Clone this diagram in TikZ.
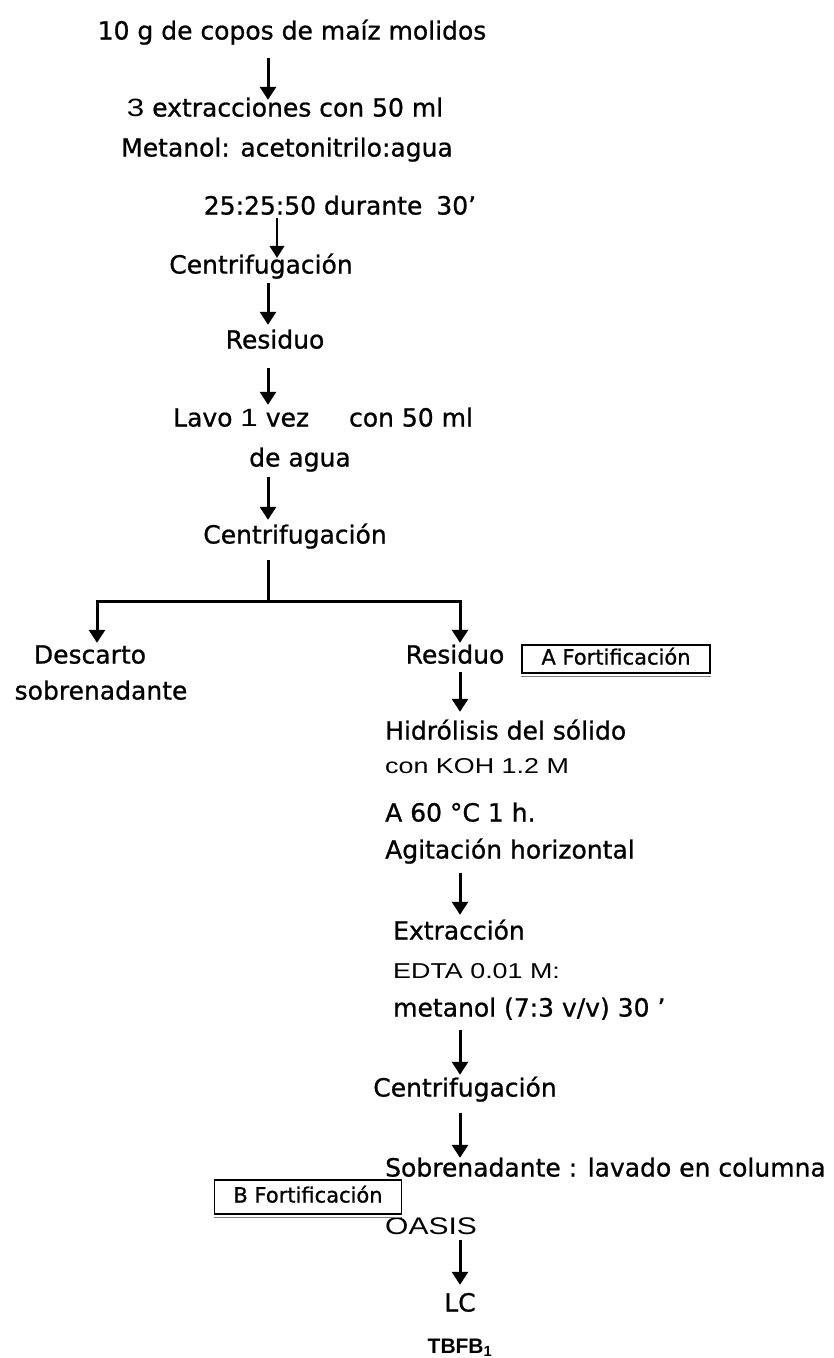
\documentclass[tikz,border=0pt]{standalone}
\usepackage{fontspec}
\setmainfont[FakeBold=0.9]{DejaVu Sans}
\newfontfamily\plainsans[FakeStretch=1.25]{Liberation Sans}
\newfontfamily\boldsans{Liberation Sans}
\usetikzlibrary{arrows.meta}

\begin{document}
\begin{tikzpicture}[x=1pt,y=-1pt,
  lbl/.style={inner sep=0pt, font=\fontsize{25}{30}\selectfont, text height=19pt, text depth=6pt},
  lft/.style={lbl, anchor=west},
  plain/.style={inner sep=0pt, font=\plainsans\fontsize{21.5}{25}\selectfont, text height=19pt, text depth=6pt, anchor=west},
  flow/.style={line width=3pt, -{Triangle[length=13pt,width=16pt]}},
  thinflow/.style={line width=1.2pt, -{Triangle[length=12pt,width=15pt]}},
  trunk/.style={line width=3pt},
  tag/.style={draw, line width=1.2pt, inner sep=0pt, font=\fontsize{21}{24}\selectfont, text height=15pt, text depth=4pt}
]
\useasboundingbox (0,0) rectangle (834,1358);

% upper chain
\node[lbl] (n1) at (292,33) {10 g de copos de maíz molidos};
\node[lbl] (n2) at (285,110) {{\plainsans 3}\hspace{8pt}extracciones con 50 ml};
\node[lbl] (n3) at (287,150) {Metanol: acetonitrilo:agua};
\node[lbl] (n4) at (340,208) {25:25:50 durante\hspace{14pt}30’};
\node[lbl] (n5) at (261,267) {Centrifugación};
\node[lbl] (n6) at (275,342) {Residuo};
\node[lft] (n7) at (173,420) {Lavo {\plainsans 1} vez\hspace{40pt}con 50 ml};
\node[lbl] (n8) at (300,460) {de agua};
\node[lbl] (n9) at (295,537) {Centrifugación};

% arrow columns
\coordinate (c1) at (268,0);
\coordinate (c2) at (277,0);
\coordinate (c3) at (460,0);

\draw[flow, shorten <=12.5pt, shorten >=-2.5pt] (n1.south -| c1) -- (n2.north -| c1);
\draw[thinflow, shorten <=-2.5pt, shorten >=-3.5pt] (n4.south -| c2) -- (n5.north -| c2);
\draw[flow, shorten <=3.5pt, shorten >=4.5pt] (n5.south -| c1) -- (n6.north -| c1);
\draw[flow, shorten <=13.5pt, shorten >=2.5pt] (n6.south -| c1) -- (n7.north -| c1);
\draw[flow, shorten <=4.5pt, shorten >=4.5pt] (n8.south -| c1) -- (n9.north -| c1);

% split
\coordinate (split) at (268,601);
\coordinate (L) at (97,601);
\coordinate (R) at (460,601);
\draw[trunk, shorten <=10.5pt] (n9.south -| c1) -- (split);
\draw[trunk, line cap=rect] (L) -- (R);

\node[lbl] (n10) at (90,657) {Descarto};
\node[lbl] (n10b) at (101,693) {sobrenadante};
\node[lbl] (n11) at (455,657) {Residuo};
\draw[flow, shorten >=1.5pt] (L) -- (n10.north -| L);
\draw[flow, shorten >=1.5pt] (R) -- (n11.north -| R);

\node[tag, minimum width=188pt, minimum height=28pt] (boxA) at (616,659) {A Fortificación};
\draw[gray, line width=1.2pt] ([yshift=-2.5pt]boxA.south west) -- ([yshift=-2.5pt]boxA.south east);

% right branch
\node[lft] (n12) at (385,733) {Hidrólisis del sólido};
\node[plain] (n13) at (385,767) {con KOH 1.2 M};
\node[lft] (n14) at (385,815) {A 60 °C 1 h.};
\node[lft] (n15) at (385,852) {Agitación horizontal};
\node[lft] (n16) at (393,933) {Extracción};
\node[plain] (n17) at (393,972) {EDTA 0.01 M:};
\node[lft] (n18) at (393,1010) {metanol (7:3 v/v) 30 ’};
\node[lbl] (n19) at (465,1090) {Centrifugación};
\node[lft] (n20) at (385,1170) {Sobrenadante : lavado en columna};
\node[plain, font=\plainsans\fontsize{24}{28}\selectfont] (n21) at (385,1228) {OASIS};
\node[lbl] (n22) at (460,1305) {LC};
\node[inner sep=0pt, font=\boldsans\bfseries\fontsize{21}{24}\selectfont] (n23) at (460,1348) {TBFB\textsubscript{1}};

\node[tag, minimum width=187pt, minimum height=34pt] (boxB) at (308,1197) {B Fortificación};
\draw[gray, line width=1.2pt] ([yshift=-2.5pt]boxB.south west) -- ([yshift=-2.5pt]boxB.south east);

\draw[flow, shorten <=2.5pt, shorten >=8.5pt] (n11.south -| c3) -- (n12.north -| c3);
\draw[flow, shorten <=8.5pt, shorten >=5.5pt] (n15.south -| c3) -- (n16.north -| c3);
\draw[flow, shorten <=7.5pt, shorten >=2.5pt] (n18.south -| c3) -- (n19.north -| c3);
\draw[flow, shorten <=10.5pt, shorten >=-0.5pt] (n19.south -| c3) -- (n20.north -| c3);
\draw[flow, shorten <=-0.5pt, shorten >=7.5pt] (n21.south -| c3) -- (n22.north -| c3);
\end{tikzpicture}
\end{document}
